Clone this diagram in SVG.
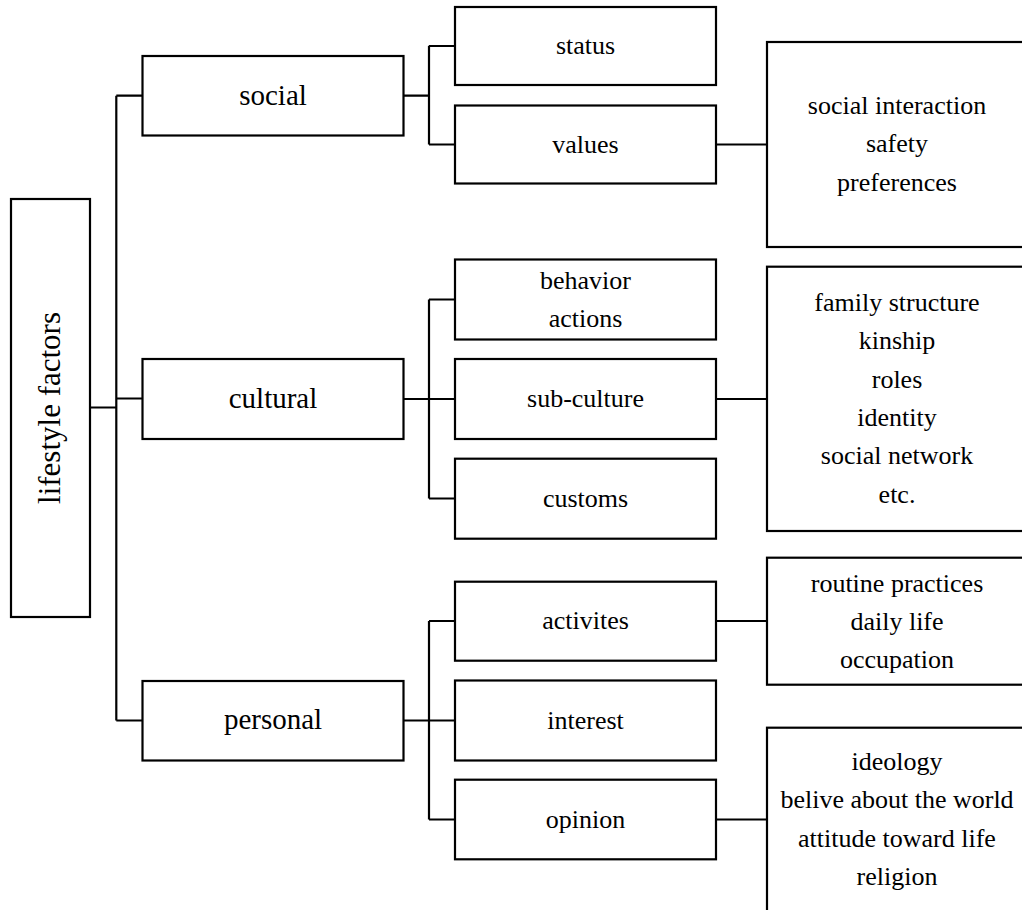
<svg xmlns="http://www.w3.org/2000/svg" width="1022" height="910" viewBox="0 0 1022 910">
<style>
.box{fill:#fff;stroke:#000;stroke-width:2.2}
.ln{fill:none;stroke:#000;stroke-width:2.2}
text{font-family:"Liberation Serif","Times New Roman",serif;fill:#000;text-anchor:middle}
.l0{font-size:31px}
.l1{font-size:29px}
.l2{font-size:26px}
</style>
<rect width="1022" height="910" fill="#fff"/>
<g id="connectors">
<path class="ln" d="M90 407.5H116.3M116.3 95.7V720.5M116.3 95.7H142.5M116.3 398.5H142.5M116.3 720.5H142.5"/>
<path class="ln" d="M403.5 95.7H429M429 45.7V144.5M429 46H455M429 144.5H455"/>
<path class="ln" d="M403.5 399H455M429 299.5V498.5M429 299.5H455M429 498.5H455"/>
<path class="ln" d="M403.5 720.5H455M429 621V819.5M429 621H455M429 819.5H455"/>
<path class="ln" d="M716 144.5H767M716 399H767M716 621H767M716 819.5H767"/>
</g>
<g id="root"><rect class="box" x="11" y="199" width="79" height="418"/><text class="l0" transform="translate(60 408) rotate(-90)">lifestyle factors</text></g>
<g id="social"><rect class="box" x="142.5" y="56" width="261" height="79.5"/><text class="l1" x="273" y="105">social</text></g>
<g id="cultural"><rect class="box" x="142.5" y="359" width="261" height="80"/><text class="l1" x="273" y="407.7">cultural</text></g>
<g id="personal"><rect class="box" x="142.5" y="681" width="261" height="79.5"/><text class="l1" x="273" y="729.3">personal</text></g>
<g id="status"><rect class="box" x="455" y="7" width="261" height="78"/><text class="l2" x="585.5" y="54">status</text></g>
<g id="values"><rect class="box" x="455" y="105.5" width="261" height="78"/><text class="l2" x="585.5" y="152.7">values</text></g>
<g id="behavior"><rect class="box" x="455" y="259.5" width="261" height="80"/><text class="l2" x="585.5" y="289">behavior</text><text class="l2" x="585.5" y="327">actions</text></g>
<g id="subculture"><rect class="box" x="455" y="359" width="261" height="80"/><text class="l2" x="585.5" y="407">sub-culture</text></g>
<g id="customs"><rect class="box" x="455" y="458.7" width="261" height="80"/><text class="l2" x="585.5" y="506.5">customs</text></g>
<g id="activites"><rect class="box" x="455" y="581.7" width="261" height="79"/><text class="l2" x="585.5" y="629">activites</text></g>
<g id="interest"><rect class="box" x="455" y="680.5" width="261" height="80"/><text class="l2" x="585.5" y="729">interest</text></g>
<g id="opinion"><rect class="box" x="455" y="779.7" width="261" height="79.6"/><text class="l2" x="585.5" y="827.5">opinion</text></g>
<g id="values-detail"><rect class="box" x="767" y="42" width="262" height="205"/><text class="l2" x="897" y="113.5">social interaction</text><text class="l2" x="897" y="152">safety</text><text class="l2" x="897" y="190.5">preferences</text></g>
<g id="subculture-detail"><rect class="box" x="767" y="266.7" width="262" height="264.3"/><text class="l2" x="897" y="311">family structure</text><text class="l2" x="897" y="349.3">kinship</text><text class="l2" x="897" y="387.6">roles</text><text class="l2" x="897" y="426">identity</text><text class="l2" x="897" y="464.3">social network</text><text class="l2" x="897" y="502.7">etc.</text></g>
<g id="activites-detail"><rect class="box" x="767" y="557.7" width="262" height="127"/><text class="l2" x="897" y="591.7">routine practices</text><text class="l2" x="897" y="629.5">daily life</text><text class="l2" x="897" y="667.7">occupation</text></g>
<g id="opinion-detail"><rect class="box" x="767" y="727.7" width="262" height="200"/><text class="l2" x="897" y="770">ideology</text><text class="l2" x="897" y="808.3">belive about the world</text><text class="l2" x="897" y="846.6">attitude toward life</text><text class="l2" x="897" y="885">religion</text></g>
</svg>
